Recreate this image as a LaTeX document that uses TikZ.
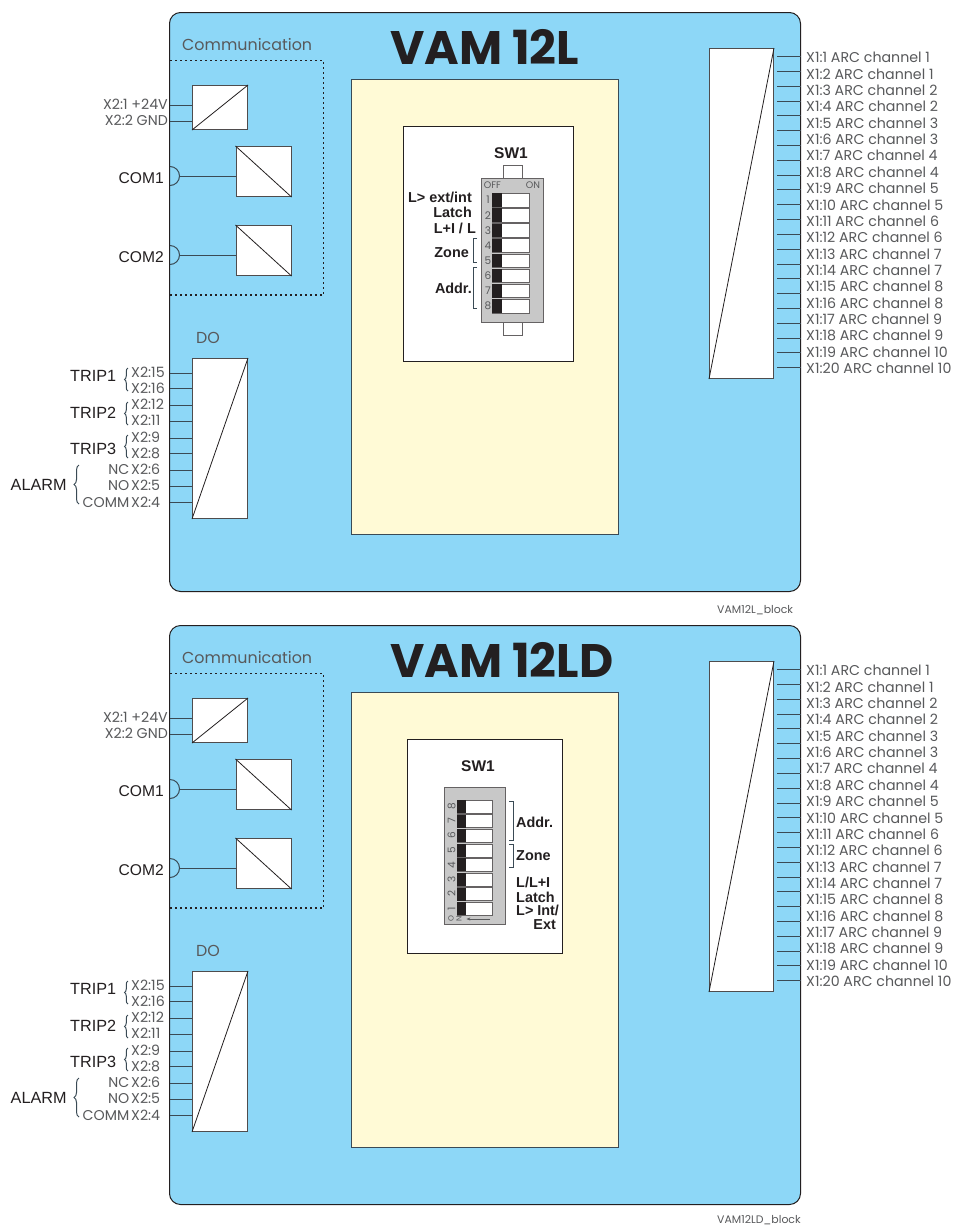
\documentclass[tikz,border=0pt]{standalone}
\usepackage{fontspec}
\setmainfont{Liberation Sans}
\newfontfamily\gothic{Poppins}
\usepackage{tikz}
\usetikzlibrary{arrows.meta,calc,positioning,decorations.pathreplacing}
\definecolor{vamink}{HTML}{231F20}
\definecolor{vamgrey}{HTML}{58595B}
\definecolor{vamline}{HTML}{3A4A55}
\definecolor{vampanel}{HTML}{8DD7F7}
\definecolor{vamcream}{HTML}{FFFAD6}
\definecolor{vamswitch}{HTML}{C8C8C8}

\begin{document}
\begin{tikzpicture}[x=1pt,y=-1pt,>=Stealth,line cap=butt,line join=miter,
  panel/.style={draw=vamink,fill=vampanel,line width=1pt,rounded corners=11pt,inner sep=0pt,anchor=north west},
  cream/.style={draw=vamline,fill=vamcream,line width=1pt,inner sep=0pt,anchor=north west},
  card/.style={draw=vamink,fill=white,line width=.8pt,inner sep=0pt,anchor=north west},
  conv/.style={draw=vamink!80,fill=white,line width=1pt,inner sep=0pt,anchor=north west},
  wire/.style={vamline,line width=1pt},
  diag/.style={vamink,line width=.8pt},
  fence/.style={vamink,line width=1.1pt,dash pattern=on 2pt off 3pt},
  body/.style={draw=vamink!70,fill=vamswitch,line width=.9pt,inner sep=0pt,anchor=north west},
  tab/.style={draw=vamink!70,fill=white,line width=.8pt,inner sep=0pt,anchor=north west},
  knob/.style={draw=vamink!70,fill=white,line width=.8pt,inner sep=0pt,anchor=north west},
  keycap/.style={fill=vamink,inner sep=0pt,anchor=north west},
  gth/.style={font=\gothic\fontsize{14.2}{16}\selectfont,text=vamgrey,inner sep=0pt},
  gthsmall/.style={font=\gothic\fontsize{10.5}{12}\selectfont,text=vamgrey,inner sep=0pt},
  tagtxt/.style={font=\gothic\fontsize{10.9}{12}\selectfont,text=vamgrey,inner sep=0pt,anchor=west},
  head/.style={font=\gothic\fontsize{15.9}{18}\selectfont,text=vamgrey,inner sep=0pt},
  ttl/.style={font=\gothic\bfseries\fontsize{47}{50}\selectfont,text=vamink,inner sep=0pt,anchor=west},
  sig/.style={font=\fontsize{16.2}{18}\selectfont,text=vamink,inner sep=0pt},
  bld/.style={font=\bfseries\fontsize{14.4}{16}\selectfont,text=vamink,inner sep=0pt},
  swname/.style={font=\bfseries\fontsize{15.5}{18}\selectfont,text=vamink,inner sep=0pt},
  curly/.style={vamline,line width=1pt,decorate,decoration={brace,amplitude=3.5pt}},
  bracket/.style={vamline,line width=.8pt}]
\path[use as bounding box] (0,0) rectangle (955,1227);
\fill[white] (0,0) rectangle (955,1227);

% both panels share everything but the switch card
\foreach \p/\dy/\ttltext/\tagtext/\tagy in {a/0/VAM 12L/VAM12L\_block/610,b/613/VAM 12LD/VAM12LD\_block/607.5} {
\begin{scope}[yshift=-\dy pt]
  \node[panel,minimum width=631pt,minimum height=579pt] (panel\p) at (169,12) {};
  \node[cream,minimum width=267pt,minimum height=455pt] (cream\p) at (351,79) {};
  \node[ttl] (title\p) at (390,47) {\ttltext};
  \node[tagtxt] (tag\p) at (717,\tagy) {\tagtext};

  % communication block
  \node[head,anchor=west] (commhead\p) at (182,45) {Communication};
  \draw[fence] (170,60.5)--(323.5,60.5)--(323.5,295)--(170,295);
  \node[conv,minimum width=55pt,minimum height=44pt] (pwr\p) at (192,85) {};
  \node[conv,minimum width=55pt,minimum height=50pt] (comone\p) at (235.5,146) {};
  \node[conv,minimum width=55pt,minimum height=50pt] (comtwo\p) at (235.5,225) {};
  \draw[diag] (pwr\p.south west)--(pwr\p.north east);
  \draw[diag] (comone\p.north west)--(comone\p.south east);
  \draw[diag] (comtwo\p.north west)--(comtwo\p.south east);
  \foreach \y/\t/\n in {105/X2:1 +24V/1,121/X2:2 GND/2} {
    \coordinate (pw\p\n) at (170,\y);
    \draw[wire] (pw\p\n)--(pw\p\n -| pwr\p.west);
    \node[gth,anchor=east] (pwl\p\n) at (168,\y-1) {\t};
  }
  \foreach \y/\t/\n in {176/COM1/comone,255/COM2/comtwo} {
    \draw[wire] (170,\y+9.5) arc (90:-90:9.5);
    \coordinate (cw\n\p) at (180,\y);
    \draw[wire] (cw\n\p)--(cw\n\p -| \n\p.west);
    \node[sig,anchor=east,font=\fontsize{15.6}{18}\selectfont] (cl\n\p) at (164,\y+2) {\t};
  }

  % DO block
  \node[head,anchor=west] (dohead\p) at (196,338) {DO};
  \node[conv,minimum width=55pt,minimum height=160pt] (do\p) at (192,358) {};
  \draw[diag] (do\p.south west)--(do\p.north east);
  \foreach \y/\t/\n in {373.3/X2:15/1,388.7/X2:16/2,405/X2:12/3,421.3/X2:11/4,438/X2:9/5,453.7/X2:8/6,470/X2:6/7,486.3/X2:5/8,502.7/X2:4/9} {
    \coordinate (dw\p\n) at (170,\y);
    \draw[wire] (dw\p\n)--(dw\p\n -| do\p.west);
    \node[gth,anchor=west] (dl\p\n) at (131,\y-.5) {\t};
  }
  \foreach \y/\t/\n in {470/NC/1,486.3/NO/2,502.7/COMM/3} {
    \node[gth,anchor=east] (al\p\n) at (129.5,\y-.5) {\t};
  }
  \foreach \y/\t/\n in {376/TRIP1/1,412.5/TRIP2/2,449/TRIP3/3} {
    \node[sig,anchor=west] (trip\p\n) at (70,\y) {\t};
  }
  \node[sig,anchor=west] (alarm\p) at (10.5,484.5) {ALARM};
  \draw[curly] (128,391)--(128,368);
  \draw[curly] (128,425)--(128,402);
  \draw[curly] (128,458)--(128,435);
  \draw[curly,decoration={amplitude=5pt}] (79,504)--(79,465);

  % arc channels
  \node[conv,minimum width=64pt,minimum height=330pt] (arc\p) at (709,48) {};
  \draw[diag] (arc\p.south west)--(arc\p.north east);
  \foreach \n in {1,...,22} {
    \coordinate (aw\p\n) at (777,{56.7+(\n-1)*14.81});
    \draw[wire] (aw\p\n)--(aw\p\n -| panel\p.east);
  }
  \foreach \n in {1,...,20} {
    \pgfmathtruncatemacro{\chn}{(\n+1)/2}
    \node[gth,anchor=west] (al\p x\n) at (806,{57.5+(\n-1)*16.37}) {X1:\n\ ARC channel \chn};
  }
\end{scope}
}

% switch card, upper panel
\node[card,minimum width=170pt,minimum height=235pt] (carda) at (403,126) {};
\node[swname] (swa) at (511,153) {SW1};
\node[tab,minimum width=19pt,minimum height=14pt] (tabtop) at (503,165) {};
\node[tab,minimum width=19pt,minimum height=14pt] (tabbot) at (503,321) {};
\node[body,minimum width=62pt,minimum height=144pt] (bodya) at (481,178) {};
\node[gthsmall,font=\gothic\fontsize{9.5}{10}\selectfont] (offl) at (492.5,185) {OFF};
\node[gthsmall,font=\gothic\fontsize{9.5}{10}\selectfont] (onl) at (533,185) {ON};
\foreach \n in {1,...,8} {
  \pgfmathsetmacro{\y}{193+(\n-1)*15.15}
  \node[knob,minimum width=37pt,minimum height=13.5pt] (knoba\n) at (492,\y) {};
  \node[keycap,minimum width=10pt,minimum height=13.5pt] (capa\n) at (492,\y) {};
  \node[gthsmall,anchor=center] (numa\n) at (488,\y+7) {\n};
}
\node[bld,anchor=east] (la1) at (472,197) {L> ext/int};
\node[bld,anchor=east] (la2) at (472,212) {Latch};
\node[bld,anchor=east] (la3) at (476,228) {L+I / L};
\node[bld,anchor=east] (la4) at (469,253) {Zone};
\node[bld,anchor=east] (la5) at (472,288) {Addr.};
\draw[bracket] (477,238)--(473,238)--(473,262)--(477,262);
\draw[bracket] (477,267)--(473,267)--(473,308)--(477,308);

% switch card, lower panel
\node[card,minimum width=155pt,minimum height=214pt] (cardb) at (407,739) {};
\node[swname] (swb) at (478,766) {SW1};
\node[body,minimum width=61pt,minimum height=137pt] (bodyb) at (444,787) {};
\foreach \n in {1,...,8} {
  \pgfmathsetmacro{\y}{902-(\n-1)*14.6}
  \node[knob,minimum width=35pt,minimum height=13pt] (knobb\n) at (456.5,\y) {};
  \node[keycap,minimum width=9.5pt,minimum height=13pt] (capb\n) at (456.5,\y) {};
  \node[gthsmall,anchor=center,rotate=90] (numb\n) at (451.5,\y+6.5) {\n};
}
\node[gthsmall,font=\gothic\fontsize{7.5}{9}\selectfont,rotate=90] (on1) at (451,919) {O};
\node[gthsmall,font=\gothic\fontsize{7.5}{9}\selectfont,rotate=90] (on2) at (459,919) {N};
\coordinate (dirtail) at (490,919);
\draw[->,vamgrey,line width=.7pt,>={Stealth[length=4pt,width=3pt]}] (dirtail)--(dirtail -| capb1.east);
\draw[bracket] (509,801)--(513,801)--(513,840)--(509,840);
\draw[bracket] (509,844)--(513,844)--(513,867)--(509,867);
\node[bld,anchor=west] (lb1) at (516,822) {Addr.};
\node[bld,anchor=west] (lb2) at (516,856) {Zone};
\node[bld,anchor=west] (lb3) at (516,882) {L/L+I};
\node[bld,anchor=west] (lb4) at (516,897) {Latch};
\node[bld,anchor=west] (lb5) at (516,910) {L> Int/};
\node[bld,anchor=east] (lb6) at (556,925) {Ext};
\end{tikzpicture}
\end{document}
